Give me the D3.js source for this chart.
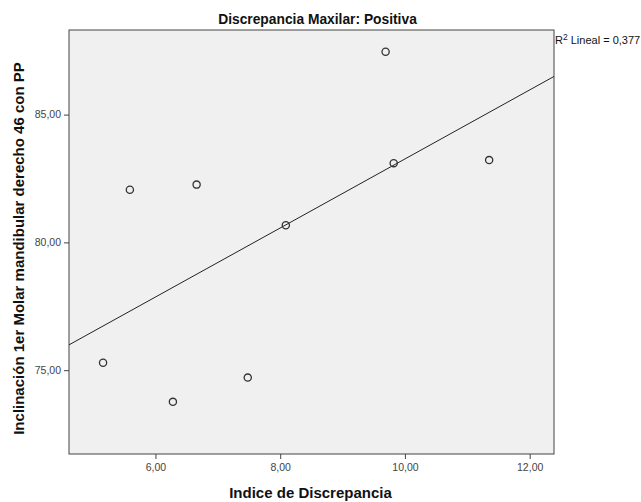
<!DOCTYPE html>
<html><head><meta charset="utf-8">
<script src="https://cdn.jsdelivr.net/npm/d3@7"></script>
<style>body{margin:0;background:#fff}svg{display:block}text{font-family:"Liberation Sans",Arial,sans-serif}</style>
</head><body>
<svg id="c" width="641" height="502"></svg>
<script>
const xValues = [5.59, 6.66, 8.09, 9.82, 11.35, 5.16, 6.28, 7.48, 9.69];
const yValues = [82.06, 82.26, 80.67, 83.10, 83.22, 75.29, 73.76, 74.71, 87.46];
const xTicks = [6, 8, 10, 12];
const yTicks = [75, 80, 85];
const title = "Discrepancia Maxilar: Positiva";
const xTitle = "Indice de Discrepancia";
const yTitle = "Inclinación 1er Molar mandibular derecho 46 con PP";
const r2Label = "0,377";

const svg = d3.select("#c");
const L = 69, R = 554, T = 30, B = 454;
const x = d3.scaleLinear().domain([4.614, 12.39]).range([L, R]);
const y = d3.scaleLinear().domain([71.72, 88.31]).range([B, T]);
const fmt = d => d3.format(".2f")(d).replace(".", ",");

svg.append("rect").attr("x", L).attr("y", T).attr("width", R - L).attr("height", B - T)
  .attr("fill", "#f0f0f0").attr("stroke", "#444").attr("stroke-width", 1);

// regression
const n = xValues.length;
const mx = d3.mean(xValues), my = d3.mean(yValues);
let sxy = 0, sxx = 0;
for (let i = 0; i < n; i++) { sxy += (xValues[i]-mx)*(yValues[i]-my); sxx += (xValues[i]-mx)**2; }
const b = sxy / sxx, a = my - b * mx;
const xd = x.domain();
svg.append("line").attr("x1", x(xd[0])).attr("y1", y(a + b*xd[0]))
  .attr("x2", x(xd[1])).attr("y2", y(a + b*xd[1])).attr("stroke", "#222").attr("stroke-width", 1);

const xa = svg.append("g").attr("transform", `translate(0,${B})`)
  .call(d3.axisBottom(x).tickValues(xTicks).tickFormat(fmt).tickSize(5).tickSizeOuter(0));
const ya = svg.append("g").attr("transform", `translate(${L},0)`)
  .call(d3.axisLeft(y).tickValues(yTicks).tickFormat(fmt).tickSize(5).tickSizeOuter(0));
[xa, ya].forEach(g => {
  g.select(".domain").remove();
  g.selectAll(".tick line").attr("stroke", "#444");
  g.selectAll(".tick text").attr("fill", "#444").style("font-size", "10.5px");
});
xa.selectAll(".tick text").attr("dy", "0.9em");

svg.append("g").selectAll("circle").data(xValues).join("circle")
  .attr("cx", d => x(d)).attr("cy", (d, i) => y(yValues[i])).attr("r", 3.6)
  .attr("fill", "none").attr("stroke", "#333").attr("stroke-width", 1.3);

svg.append("text").attr("x", 317.5).attr("y", 24).attr("text-anchor", "middle")
  .style("font-size", "13.8px").style("font-weight", "bold").attr("fill", "#111").text(title);
svg.append("text").attr("x", 310.5).attr("y", 498).attr("text-anchor", "middle")
  .style("font-size", "15px").style("font-weight", "bold").attr("fill", "#111").text(xTitle);
svg.append("text").attr("transform", `translate(24,248.5) rotate(-90)`).attr("text-anchor", "middle")
  .style("font-size", "15px").style("font-weight", "bold").attr("fill", "#111").text(yTitle);
const rt = svg.append("text").attr("x", 555).attr("y", 44).style("font-size", "11px").attr("fill", "#111");
rt.append("tspan").text("R");
rt.append("tspan").attr("dy", -4).style("font-size", "8.5px").text("2");
rt.append("tspan").attr("dy", 4).text(" Lineal = " + r2Label);
</script>
</body></html>
